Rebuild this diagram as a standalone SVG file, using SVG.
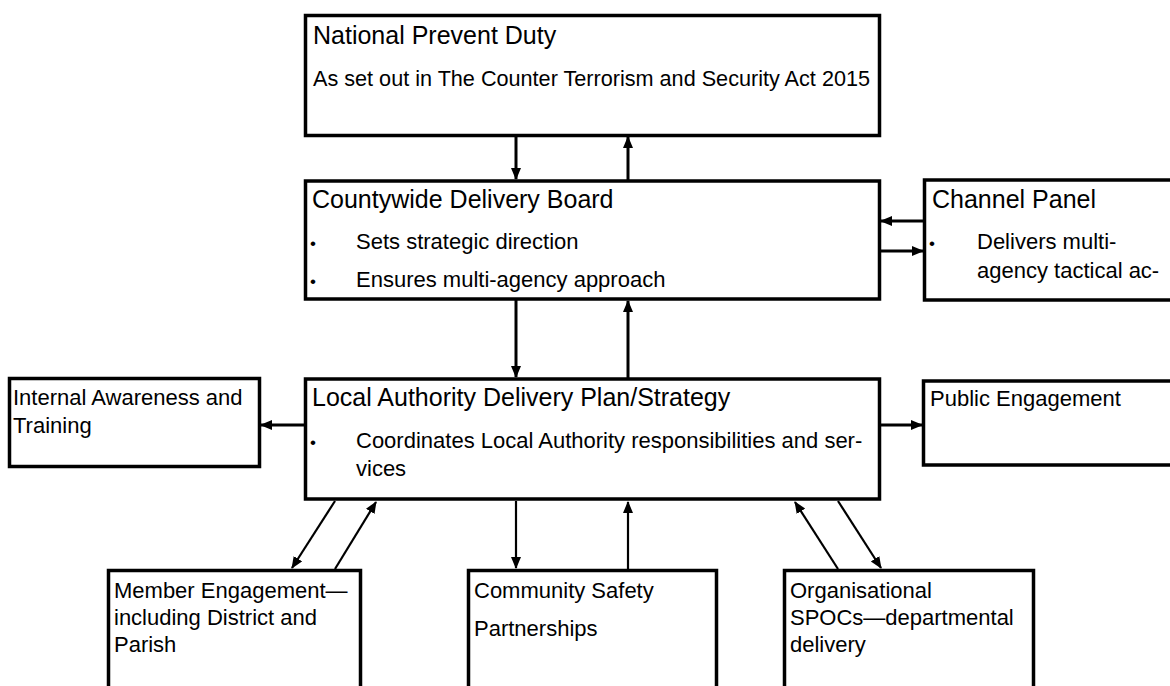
<svg xmlns="http://www.w3.org/2000/svg" width="1170" height="686" viewBox="0 0 1170 686">
<style>
.box{fill:#fff;stroke:#000;stroke-width:3.5}
.t{font-family:"Liberation Sans",Arial,sans-serif;fill:#000}
.h{font-size:25px}
.b{font-size:22px}
.bul{font-size:17px}
.c{stroke:#000;stroke-width:3;fill:none;marker-end:url(#ah)}
.c2{stroke:#000;stroke-width:2.2;fill:none;marker-end:url(#ah)}
</style>
<defs>
<marker id="ah" markerUnits="userSpaceOnUse" markerWidth="12" markerHeight="11" refX="11" refY="5" orient="auto">
<path d="M0,0 L12,5 L0,10 z" fill="#000"/>
</marker>
</defs>
<rect width="1170" height="686" fill="#fff"/>
<g id="connectors">
<line class="c" x1="516" y1="137" x2="516" y2="179"/>
<line class="c" x1="628" y1="180" x2="628" y2="137"/>
<line class="c" x1="516" y1="300" x2="516" y2="377"/>
<line class="c" x1="628" y1="378" x2="628" y2="301"/>
<line class="c" x1="923" y1="221" x2="881" y2="221"/>
<line class="c" x1="881" y1="251" x2="923" y2="251"/>
<line class="c" x1="304" y1="425" x2="261" y2="425"/>
<line class="c" x1="880" y1="425" x2="922" y2="425"/>
<line class="c2" x1="335" y1="501" x2="292" y2="568"/>
<line class="c2" x1="335" y1="569" x2="376" y2="502"/>
<line class="c2" x1="516" y1="501" x2="516" y2="568"/>
<line class="c2" x1="628" y1="569" x2="628" y2="502"/>
<line class="c2" x1="838" y1="569" x2="795" y2="502"/>
<line class="c2" x1="838" y1="501" x2="881" y2="568"/>
</g>
<g id="national">
<rect class="box" x="305.5" y="15.5" width="574" height="120"/>
<text class="t h" x="313" y="44">National Prevent Duty</text>
<text class="t b" x="313" y="86" textLength="557" lengthAdjust="spacingAndGlyphs">As set out in The Counter Terrorism and Security Act 2015</text>
</g>
<g id="countywide">
<rect class="box" x="305.5" y="181" width="574" height="118"/>
<text class="t h" x="312" y="208">Countywide Delivery Board</text>
<text class="t bul" x="310" y="249">•</text>
<text class="t b" x="356" y="249">Sets strategic direction</text>
<text class="t bul" x="310" y="287">•</text>
<text class="t b" x="356" y="287">Ensures multi-agency approach</text>
</g>
<g id="channel">
<rect class="box" x="924.5" y="180" width="260" height="120"/>
<text class="t h" x="932" y="208">Channel Panel</text>
<text class="t bul" x="929" y="249">•</text>
<text class="t b" x="977" y="249">Delivers multi-</text>
<text class="t b" x="977" y="278">agency tactical ac-</text>
</g>
<g id="internal">
<rect class="box" x="9.5" y="378.5" width="250" height="88"/>
<text class="t b" x="13" y="405">Internal Awareness and</text>
<text class="t b" x="13" y="433">Training</text>
</g>
<g id="local">
<rect class="box" x="305.5" y="379" width="574" height="120"/>
<text class="t h" x="312" y="406">Local Authority Delivery Plan/Strategy</text>
<text class="t bul" x="310" y="448">•</text>
<text class="t b" x="356" y="448">Coordinates Local Authority responsibilities and ser-</text>
<text class="t b" x="356" y="476">vices</text>
</g>
<g id="public">
<rect class="box" x="923.5" y="381" width="260" height="84"/>
<text class="t b" x="930" y="406">Public Engagement</text>
</g>
<g id="member">
<rect class="box" x="108.5" y="570.5" width="252" height="130"/>
<text class="t b" x="114" y="598">Member Engagement—</text>
<text class="t b" x="114" y="625">including District and</text>
<text class="t b" x="114" y="652">Parish</text>
</g>
<g id="community">
<rect class="box" x="468.5" y="570.5" width="248" height="130"/>
<text class="t b" x="474" y="598">Community Safety</text>
<text class="t b" x="474" y="636">Partnerships</text>
</g>
<g id="organisational">
<rect class="box" x="784.5" y="570.5" width="249" height="130"/>
<text class="t b" x="790" y="598">Organisational</text>
<text class="t b" x="790" y="625">SPOCs—departmental</text>
<text class="t b" x="790" y="652">delivery</text>
</g>
</svg>
